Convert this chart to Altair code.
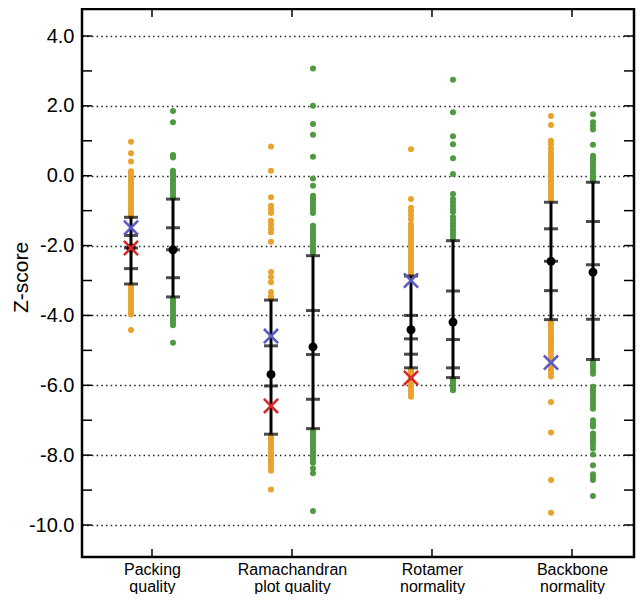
import altair as alt
import pandas as pd

# ---------------- data ----------------
categories = ["Packing quality", "Ramachandran plot quality", "Rotamer normality", "Backbone normality"]
label_lines = [["Packing", "quality"], ["Ramachandran", "plot quality"],
               ["Rotamer", "normality"], ["Backbone", "normality"]]
series_names = ["Set A", "Set B"]

# individual Z-scores (only the ones visible outside the bars)
packing_a = [0.97, 0.64, 0.41, 0.13, 0.05, -0.03, -0.1, -0.18, -0.25, -0.33, -0.4, -0.48, -0.55,
             -0.63, -0.7, -0.78, -0.85, -0.93, -1.0, -1.08, -1.15, -3.15, -3.22, -3.3, -3.38,
             -3.45, -3.52, -3.6, -3.68, -3.75, -3.82, -3.9, -3.97, -4.42]
packing_b = [1.85, 1.53, 0.59, 0.52, 0.14, 0.07, 0.0, -0.07, -0.14, -0.21, -0.28, -0.35, -0.42,
             -0.5, -0.57, -0.63, -3.52, -3.6, -3.67, -3.75, -3.82, -3.9, -3.97, -4.05, -4.12,
             -4.2, -4.28, -4.78]
rama_a = [0.84, 0.14, -0.62, -0.86, -0.97, -1.07, -1.29, -1.4, -1.52, -1.62, -1.89, -2.76, -2.9,
          -3.05, -3.33, -3.45, -3.52, -7.45, -7.52, -7.6, -7.68, -7.75, -7.82, -7.9, -7.97,
          -8.05, -8.12, -8.2, -8.28, -8.35, -8.45, -8.98]
rama_b = [3.07, 2.0, 1.48, 1.17, 0.54, -0.08, -0.29, -0.57, -0.65, -0.73, -0.81, -0.9, -0.98,
          -1.07, -1.43, -1.5, -1.58, -1.66, -1.74, -1.82, -1.9, -1.98, -2.06, -2.14, -2.2,
          -7.3, -7.37, -7.45, -7.52, -7.6, -7.68, -7.75, -7.83, -7.9, -7.98, -8.06, -8.14,
          -8.22, -8.38, -8.52, -9.6]
rotamer_a = [0.76, -0.67, -0.92, -1.02, -1.13, -1.24, -1.38, -1.46, -1.54, -1.62, -1.7, -1.78,
             -1.86, -1.94, -2.02, -2.1, -2.18, -2.26, -2.34, -2.42, -2.5, -2.58, -2.66, -2.74,
             -2.82, -5.55, -5.63, -5.7, -5.78, -5.86, -5.94, -6.02, -6.1, -6.18, -6.26, -6.33]
rotamer_b = [2.75, 1.82, 1.13, 0.9, 0.5, 0.05, -0.52, -0.67, -0.77, -0.87, -0.97, -1.04, -1.18,
             -1.27, -1.36, -1.45, -1.54, -1.63, -1.72, -1.81, -5.83, -5.9, -5.98, -6.06, -6.14]
backbone_a = [1.71, 1.45, 1.0, 0.9, 0.78, 0.67, 0.6, 0.52, 0.44, 0.36, 0.28, 0.2, 0.12, 0.04,
              -0.04, -0.12, -0.2, -0.28, -0.36, -0.44, -0.52, -0.6, -0.68, -4.2, -4.28, -4.36,
              -4.44, -4.52, -4.6, -4.68, -4.76, -4.84, -4.92, -5.0, -5.1, -5.2, -5.3, -5.45,
              -5.55, -5.65, -5.75, -6.48, -7.35, -8.71, -9.65]
backbone_b = [1.76, 1.53, 1.42, 1.32, 0.89, 0.57, 0.49, 0.41, 0.33, 0.25, 0.17, 0.09, 0.01,
              -0.07, -0.14, -5.33, -5.42, -5.5, -5.58, -5.67, -6.04, -6.12, -6.2, -6.3, -6.4,
              -6.5, -6.6, -6.67, -7.0, -7.1, -7.18, -7.38, -7.46, -7.54, -7.62, -7.7, -7.81,
              -7.98, -8.29, -8.55, -8.63, -8.71, -9.17]

# summary bars: cap levels, mean
caps_a = [[-1.19, -1.71, -2.07, -2.66, -3.10], [-3.56, -4.87, -6.02, -7.40],
          [-2.87, -4.0, -4.67, -5.11, -5.5], [-0.76, -1.52, -2.45, -3.29, -4.12]]
caps_b = [[-0.67, -1.49, -2.12, -2.92, -3.47], [-2.29, -3.86, -5.12, -6.40, -7.24],
          [-1.86, -3.30, -4.69, -5.5, -5.78], [-0.19, -1.31, -2.55, -4.11, -5.26]]
mean_a = [-2.07, -5.69, -4.41, -2.45]
mean_b = [-2.12, -4.90, -4.19, -2.76]

# reference structures (crosses, drawn on the Set A column)
blue_x = [-1.49, -4.59, -3.0, -5.35]
red_x = [-2.07, -6.59, -5.79, None]

y_ticks = [4, 2, 0, -2, -4, -6, -8, -10]
minor_ticks = list(range(-10, 5))

# ---------------- tables ----------------
offset = {0: -0.15, 1: 0.15}
dots_by = [[packing_a, packing_b], [rama_a, rama_b], [rotamer_a, rotamer_b], [backbone_a, backbone_b]]
rows = []
for g, pair in enumerate(dots_by):
    for s, vals in enumerate(pair):
        for v in vals:
            rows.append({"x": g + 1 + offset[s], "z": v, "series": series_names[s]})
dots = pd.DataFrame(rows)

bar_rows, cap_rows, mean_rows = [], [], []
for g in range(4):
    for s, (caps, means) in enumerate([(caps_a, mean_a), (caps_b, mean_b)]):
        x = g + 1 + offset[s]
        bar_rows.append({"x": x, "top": max(caps[g]), "bottom": min(caps[g])})
        for c in caps[g]:
            cap_rows.append({"x": x, "z": c})
        mean_rows.append({"x": x, "z": means[g]})
bars = pd.DataFrame(bar_rows)
capdf = pd.DataFrame(cap_rows)
meandf = pd.DataFrame(mean_rows)

cross_rows = []
for g in range(4):
    if blue_x[g] is not None:
        cross_rows.append({"x": g + 1 + offset[0], "z": blue_x[g], "kind": "blue"})
    if red_x[g] is not None:
        cross_rows.append({"x": g + 1 + offset[0], "z": red_x[g], "kind": "red"})
crosses = pd.DataFrame(cross_rows)

ticks_df = pd.DataFrame({"t": minor_ticks})
xticks_df = pd.DataFrame({"g": [1, 2, 3, 4]})

# ---------------- scales / axes ----------------
W, H = 552, 548
xscale = alt.Scale(domain=[0.5, 4.443], nice=False, zero=False)
yscale = alt.Scale(domain=[-10.916, 4.773], nice=False, zero=False)

label_expr = " : ".join(
    f"datum.value == {i + 1} ? ['{l[0]}', '{l[1]}']" for i, l in enumerate(label_lines)
) + " : ''"

x_axis = alt.Axis(values=[1, 2, 3, 4], labelExpr=label_expr, title=None, grid=False,
                  ticks=False, domain=False, labelFontSize=16, labelColor="black",
                  labelPadding=4, labelLineHeight=17, labelAngle=0)
y_axis = alt.Axis(values=y_ticks, labelExpr="replace(format(datum.value, '.1f'), '\u2212', '-')",
                  title="Z-score", titleFontSize=21, titleFontWeight="normal", titleColor="black",
                  titleAngle=-90, titleX=-61, titleY=268, titleAlign="center", titleBaseline="middle",
                  grid=True, gridDash=[1.5, 3.2], gridColor="#222222", gridWidth=1.3,
                  ticks=False, domain=False, labelFontSize=20, labelColor="black", labelPadding=8)

X = alt.X("x:Q", scale=xscale, axis=x_axis)
Y = alt.Y("z:Q", scale=yscale, axis=y_axis)

orange = "#E8A22E"
green = "#4F9A40"

dot_layer = alt.Chart(dots).mark_circle(size=36, opacity=1).encode(
    x=X, y=Y,
    color=alt.Color("series:N", scale=alt.Scale(domain=series_names, range=[orange, green]), legend=None),
)

bar_layer = alt.Chart(bars).mark_rule(color="black", strokeWidth=3).encode(
    x=alt.X("x:Q", scale=xscale), y=alt.Y("top:Q", scale=yscale), y2="bottom:Q"
)
cap_layer = alt.Chart(capdf).mark_tick(color="black", orient="horizontal", size=14, thickness=3).encode(
    x=alt.X("x:Q", scale=xscale), y=alt.Y("z:Q", scale=yscale)
)
mean_layer = alt.Chart(meandf).mark_circle(color="black", size=80, opacity=1).encode(
    x=alt.X("x:Q", scale=xscale), y=alt.Y("z:Q", scale=yscale)
)
cross_layer = alt.Chart(crosses).mark_point(
    shape="M-1,-1L1,1M-1,1L1,-1", filled=False, size=200, strokeWidth=2.6, opacity=1
).encode(
    x=alt.X("x:Q", scale=xscale), y=alt.Y("z:Q", scale=yscale),
    stroke=alt.Color("kind:N", scale=alt.Scale(domain=["blue", "red"], range=["#5A5AC8", "#D9282A"]),
                     legend=None),
)

left_ticks = alt.Chart(ticks_df).mark_rule(color="black", strokeWidth=1.5).encode(
    y=alt.Y("t:Q", scale=yscale), x=alt.value(0), x2=alt.value(10)
)
right_ticks = alt.Chart(ticks_df).mark_rule(color="black", strokeWidth=1.5).encode(
    y=alt.Y("t:Q", scale=yscale), x=alt.value(W - 10), x2=alt.value(W)
)
bottom_ticks = alt.Chart(xticks_df).mark_rule(color="black", strokeWidth=1.5).encode(
    x=alt.X("g:Q", scale=xscale), y=alt.value(H - 8), y2=alt.value(H)
)
top_ticks = alt.Chart(xticks_df).mark_rule(color="black", strokeWidth=1.5).encode(
    x=alt.X("g:Q", scale=xscale), y=alt.value(0), y2=alt.value(8)
)

chart = alt.layer(
    dot_layer, left_ticks, right_ticks, bottom_ticks, top_ticks,
    bar_layer, cap_layer, mean_layer, cross_layer
).resolve_scale(color="independent").properties(
    width=W, height=H,
    autosize=alt.AutoSizeParams(type="none"),
    padding={"left": 74, "top": 1, "right": 2, "bottom": 37},
    background="white",
).configure(font="Liberation Sans").configure_view(stroke="black", strokeWidth=2.5)

chart.save("out.html", embed_options={"renderer": "svg", "actions": False})
